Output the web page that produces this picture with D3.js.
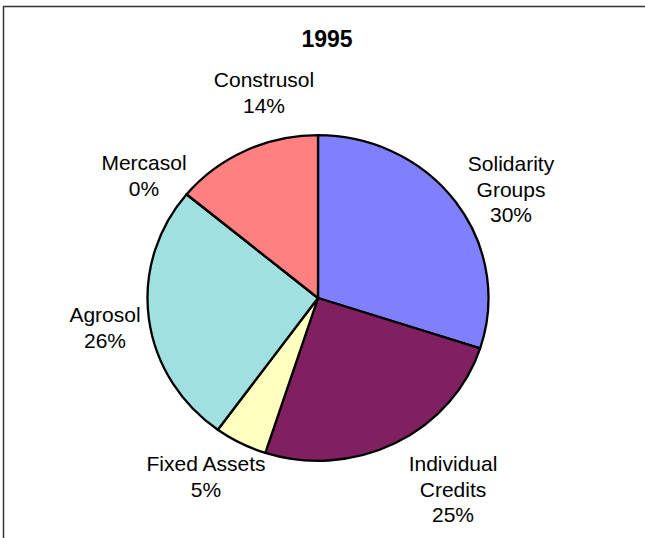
<!DOCTYPE html>
<html>
<head>
<meta charset="utf-8">
<script src="https://cdn.jsdelivr.net/npm/d3@7"></script>
<style>
  html, body { margin: 0; padding: 0; background: #fff; }
  svg { display: block; }
  text { font-family: "Liberation Sans", Arial, sans-serif; fill: #000; }
</style>
</head>
<body>
<svg id="chart" width="645" height="538"></svg>
<script>
// Portfolio shares for 1995, clockwise from 12 o'clock
const title = "1995";
const categories = ["Solidarity Groups", "Individual Credits", "Fixed Assets", "Agrosol", "Mercasol", "Construsol"];
const shares = [30, 25, 5, 26, 0, 14];
const colors = ["#8080FF", "#802060", "#FFFFC0", "#A0E0E0", "#804080", "#FF8080"];

// Label lines (category wording split as shown) and their anchor points
const labelLines = {
  "Solidarity Groups": ["Solidarity", "Groups"],
  "Individual Credits": ["Individual", "Credits"],
  "Fixed Assets": ["Fixed Assets"],
  "Agrosol": ["Agrosol"],
  "Mercasol": ["Mercasol"],
  "Construsol": ["Construsol"]
};
const labelAnchor = {
  "Solidarity Groups": [511, 171],
  "Individual Credits": [453, 471],
  "Fixed Assets": [206, 471],
  "Agrosol": [105, 322],
  "Mercasol": [144, 170],
  "Construsol": [264, 87]
};

const W = 645, H = 538;
const cx = 318, cy = 298, rx = 170.5, ry = 162.8;
const lineGap = 25.5;

const svg = d3.select("#chart");

// Chart frame
svg.append("rect")
  .attr("x", 3.5).attr("y", 6.5)
  .attr("width", W + 10).attr("height", H + 10)
  .attr("fill", "#fff")
  .attr("stroke", "#333").attr("stroke-width", 1.5);

// Title
svg.append("text")
  .attr("x", 327).attr("y", 47)
  .attr("text-anchor", "middle")
  .attr("font-size", 23).attr("font-weight", "bold")
  .text(title);

const data = categories.map((c, i) => ({ name: c, value: shares[i], color: colors[i] }));
const total = d3.sum(shares);

const pie = d3.pie().sort(null).value(d => d.value).startAngle(0).endAngle(2 * Math.PI);
const arc = d3.arc().innerRadius(0).outerRadius(ry);

// Slightly oval pie: scale horizontally, keep stroke width uniform
const g = svg.append("g")
  .attr("transform", `translate(${cx},${cy}) scale(${rx / ry},1)`);

g.selectAll("path")
  .data(pie(data))
  .join("path")
  .attr("d", arc)
  .attr("fill", d => d.data.color)
  .attr("stroke", "#000")
  .attr("stroke-width", 2.3)
  .attr("stroke-linejoin", "round")
  .attr("vector-effect", "non-scaling-stroke");

// Category labels with percentage
const fmt = d3.format(".0%");
const labels = svg.append("g").attr("font-size", 21);
data.forEach(d => {
  const [x, y] = labelAnchor[d.name];
  const lines = labelLines[d.name].concat([fmt(d.value / total)]);
  const t = labels.append("text").attr("text-anchor", "middle");
  lines.forEach((ln, i) => {
    t.append("tspan").attr("x", x).attr("y", y + i * lineGap).text(ln);
  });
});
</script>
</body>
</html>
